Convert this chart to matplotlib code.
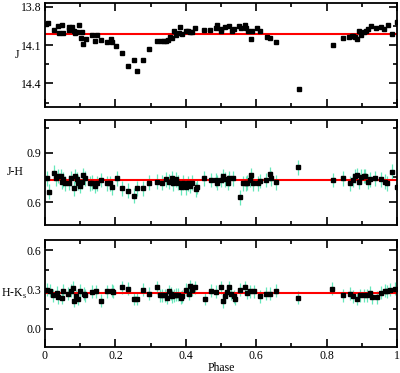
import matplotlib
matplotlib.use("Agg")
import matplotlib.pyplot as plt
from matplotlib.ticker import MultipleLocator

# J light curve
fase_j = [0.003, 0.009, 0.026, 0.038, 0.041, 0.048, 0.052, 0.067, 0.069, 0.078,
          0.081, 0.086, 0.090, 0.098, 0.102, 0.105, 0.109, 0.116, 0.133, 0.143,
          0.148, 0.160, 0.176, 0.188, 0.190, 0.203, 0.219, 0.235, 0.252, 0.262,
          0.279, 0.295, 0.319, 0.329, 0.338, 0.343, 0.350, 0.355, 0.360, 0.367,
          0.371, 0.381, 0.384, 0.390, 0.400, 0.405, 0.412, 0.419, 0.427, 0.452,
          0.469, 0.486, 0.490, 0.500, 0.501, 0.512, 0.522, 0.531, 0.536, 0.552,
          0.557, 0.567, 0.572, 0.578, 0.584, 0.589, 0.603, 0.610, 0.631, 0.640,
          0.657, 0.721, 0.817, 0.848, 0.865, 0.871, 0.876, 0.880, 0.886, 0.893,
          0.898, 0.905, 0.911, 0.919, 0.927, 0.941, 0.955, 0.962, 0.974, 0.986,
          1.000]
mag_j = [13.935, 13.925, 13.980, 13.950, 14.005, 13.940, 14.005, 13.955, 13.980, 13.960,
         13.987, 14.005, 14.000, 13.946, 14.044, 14.000, 14.095, 14.049, 14.018, 14.070,
         14.018, 14.056, 14.077, 14.049, 14.075, 14.108, 14.159, 14.260, 14.218, 14.305,
         14.218, 14.128, 14.064, 14.064, 14.064, 14.070, 14.056, 14.040, 14.044, 13.990,
         14.018, 14.005, 13.960, 14.013, 13.987, 13.987, 14.000, 14.000, 13.967, 13.980,
         13.980, 13.967, 13.946, 13.990, 13.975, 13.960, 13.954, 13.987, 13.970, 13.954,
         13.965, 13.940, 13.965, 13.987, 14.049, 13.987, 13.967, 13.990, 14.040, 14.044,
         14.077, 14.440, 14.102, 14.044, 14.040, 14.030, 14.030, 14.040, 14.052, 13.987,
         14.023, 14.000, 13.990, 13.970, 13.954, 13.967, 13.960, 13.970, 13.940, 14.013,
         13.920]
err_j = 0.007
media_j = 14.015

# cor J-H
fase_jh = [0.007, 0.012, 0.026, 0.031, 0.038, 0.045, 0.048, 0.052, 0.057, 0.067,
           0.073, 0.081, 0.086, 0.090, 0.095, 0.100, 0.105, 0.109, 0.114, 0.127,
           0.133, 0.143, 0.148, 0.159, 0.176, 0.186, 0.190, 0.205, 0.219, 0.235,
           0.252, 0.262, 0.279, 0.295, 0.319, 0.333, 0.343, 0.352, 0.360, 0.364,
           0.371, 0.378, 0.386, 0.393, 0.400, 0.405, 0.412, 0.419, 0.429, 0.431,
           0.452, 0.471, 0.486, 0.490, 0.500, 0.505, 0.510, 0.519, 0.524, 0.535,
           0.554, 0.562, 0.571, 0.575, 0.581, 0.586, 0.590, 0.605, 0.612, 0.629,
           0.640, 0.643, 0.657, 0.719, 0.817, 0.846, 0.867, 0.875, 0.881, 0.886,
           0.893, 0.898, 0.905, 0.910, 0.919, 0.924, 0.938, 0.954, 0.967, 0.973,
           0.986, 1.000]
cor_jh = [0.745, 0.663, 0.779, 0.745, 0.759, 0.759, 0.724, 0.738, 0.714, 0.718,
          0.745, 0.683, 0.759, 0.738, 0.718, 0.698, 0.724, 0.765, 0.745, 0.714,
          0.718, 0.698, 0.714, 0.734, 0.714, 0.714, 0.690, 0.745, 0.683, 0.669,
          0.638, 0.683, 0.683, 0.718, 0.724, 0.718, 0.739, 0.724, 0.745, 0.714,
          0.739, 0.718, 0.690, 0.718, 0.690, 0.714, 0.698, 0.718, 0.677, 0.694,
          0.745, 0.734, 0.734, 0.718, 0.734, 0.759, 0.738, 0.718, 0.745, 0.745,
          0.628, 0.714, 0.714, 0.718, 0.734, 0.765, 0.714, 0.714, 0.728, 0.734,
          0.771, 0.745, 0.720, 0.812, 0.734, 0.745, 0.714, 0.734, 0.759, 0.765,
          0.724, 0.755, 0.759, 0.759, 0.724, 0.738, 0.745, 0.739, 0.724, 0.714,
          0.785, 0.690]
err_jh = 0.045
media_jh = 0.734

# cor H-Ks
fase_hk = [0.007, 0.014, 0.024, 0.033, 0.038, 0.048, 0.052, 0.064, 0.073, 0.079,
           0.083, 0.089, 0.095, 0.100, 0.110, 0.114, 0.133, 0.146, 0.159, 0.176,
           0.190, 0.193, 0.219, 0.235, 0.252, 0.262, 0.279, 0.295, 0.319, 0.327,
           0.333, 0.340, 0.346, 0.352, 0.357, 0.362, 0.367, 0.371, 0.378, 0.386,
           0.390, 0.400, 0.408, 0.412, 0.419, 0.427, 0.454, 0.471, 0.486, 0.500,
           0.505, 0.511, 0.517, 0.524, 0.529, 0.536, 0.541, 0.555, 0.569, 0.574,
           0.581, 0.595, 0.610, 0.629, 0.638, 0.657, 0.719, 0.816, 0.848, 0.867,
           0.876, 0.886, 0.895, 0.905, 0.914, 0.924, 0.929, 0.943, 0.955, 0.965,
           0.971, 0.981, 0.993]
cor_hk = [0.300, 0.292, 0.256, 0.274, 0.241, 0.236, 0.292, 0.267, 0.292, 0.313,
          0.215, 0.249, 0.230, 0.292, 0.267, 0.256, 0.282, 0.287, 0.215, 0.287,
          0.292, 0.282, 0.318, 0.308, 0.230, 0.230, 0.300, 0.267, 0.318, 0.256,
          0.256, 0.256, 0.236, 0.287, 0.267, 0.249, 0.256, 0.262, 0.262, 0.236,
          0.249, 0.300, 0.267, 0.326, 0.300, 0.318, 0.230, 0.292, 0.282, 0.318,
          0.210, 0.249, 0.282, 0.318, 0.267, 0.249, 0.230, 0.300, 0.318, 0.274,
          0.287, 0.287, 0.249, 0.267, 0.267, 0.292, 0.236, 0.308, 0.256, 0.267,
          0.249, 0.230, 0.256, 0.256, 0.256, 0.274, 0.241, 0.241, 0.274, 0.292,
          0.287, 0.300, 0.308]
err_hk = 0.05
media_hk = 0.275

plt.rcParams['font.family'] = ['Liberation Serif', 'DejaVu Serif']
plt.rcParams['font.size'] = 8.5

cor_erro = '#66e8bb'

fig = plt.figure(figsize=(4, 3.73), dpi=100)
posicoes = [
    [0.1125, 0.7131, 0.88, 0.2788],
    [0.1125, 0.3968, 0.88, 0.2815],
    [0.1125, 0.0697, 0.88, 0.2869],
]
paineis = [
    (fase_j, mag_j, err_j, media_j, (14.585, 13.77), 'J', -0.08),
    (fase_jh, cor_jh, err_jh, media_jh, (0.46, 1.10), 'J-H', -0.085),
    (fase_hk, cor_hk, err_hk, media_hk, (-0.14, 0.68), 'H-K$_\\mathregular{s}$', -0.088),
]

for i, (pos, (x, y, e, media, ylim, rotulo, lx)) in enumerate(zip(posicoes, paineis)):
    ax = fig.add_axes(pos)
    ax.errorbar(x, y, yerr=e, fmt='none', ecolor=cor_erro, elinewidth=0.9, capsize=0, zorder=1)
    ax.plot(x, y, 's', color='black', markersize=2.3, zorder=3)
    ax.axhline(media, color='red', linewidth=1.5, zorder=2)
    ax.set_xlim(0, 1)
    ax.set_ylim(*ylim)
    ax.xaxis.set_major_locator(MultipleLocator(0.2))
    ax.xaxis.set_minor_locator(MultipleLocator(0.1))
    ax.yaxis.set_major_locator(MultipleLocator(0.3))
    ax.yaxis.set_minor_locator(MultipleLocator(0.15))
    ax.tick_params(which='both', direction='in', top=True, right=True, width=1.2, pad=2.5)
    ax.tick_params(which='major', length=5.5)
    ax.tick_params(which='minor', length=3)
    for sp in ax.spines.values():
        sp.set_linewidth(1.3)
    ax.set_ylabel(rotulo, rotation=0, va='center', ha='center')
    ax.yaxis.set_label_coords(lx, 0.5)
    if i < 2:
        ax.set_xticklabels([])
    else:
        ax.xaxis.set_major_formatter(plt.FuncFormatter(lambda v, p: f"{v:g}"))
        ax.set_xlabel('Phase', labelpad=0)

fig.savefig('out.png', dpi=100)
